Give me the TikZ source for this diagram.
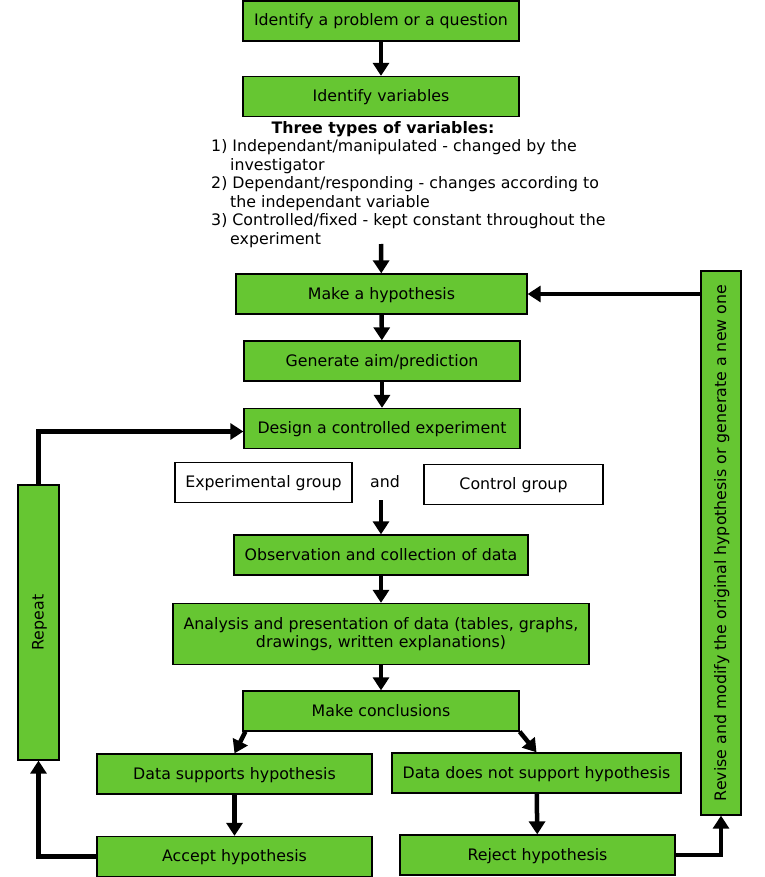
\documentclass[tikz,border=0pt]{standalone}
\usepackage{fontspec}
\setmainfont{DejaVu Sans}
\usetikzlibrary{arrows.meta}
\definecolor{boxgreen}{HTML}{66C632}
\begin{document}
\begin{tikzpicture}[x=1pt,y=-1pt,
    font=\fontsize{15.8}{18.5}\selectfont,
    greenbox/.style={draw=black,line width=1.3pt,fill=boxgreen,inner sep=0pt,minimum height=40pt,text height=11pt,text depth=1pt},
    whitebox/.style={draw=black,line width=1.3pt,fill=white,inner sep=0pt,minimum height=40pt,text height=11pt,text depth=1pt},
    arr/.style={line width=4.5pt,-{Triangle[length=13pt,width=16pt]}}]
    \useasboundingbox (0,0) rectangle (764,877);

    % main column
    \node[greenbox,minimum width=276pt] (problem) at (381,21) {Identify a problem or a question};
    \node[greenbox,minimum width=276pt] (vars) at (381,96.5) {Identify variables};

    % the three types of variables
    \node[inner sep=0pt] (vtitle) at (383,129.5) {\textbf{Three types of variables:}};
    \node[inner sep=0pt,anchor=north west,align=left] (vlist) at (211,139.5)
        {1) Independant/manipulated - changed by the\\
         \hspace*{19pt}investigator\\
         2) Dependant/responding - changes according to\\
         \hspace*{19pt}the independant variable\\
         3) Controlled/fixed - kept constant throughout the\\
         \hspace*{19pt}experiment};
    \coordinate (vend) at (381,244);

    \node[greenbox,minimum width=291pt] (hyp) at (381.5,294) {Make a hypothesis};
    \node[greenbox,minimum width=276pt] (aim) at (382,361) {Generate aim/prediction};
    \node[greenbox,minimum width=276pt] (design) at (382,428.5) {Design a controlled experiment};

    % groups
    \node[whitebox,minimum width=177pt] (expgrp) at (263.5,482.5) {Experimental group};
    \node[inner sep=0pt,text height=11pt,text depth=1pt] (and) at (385,482) {and};
    \node[whitebox,minimum width=179pt] (ctrlgrp) at (513.5,484.5) {Control group};
    \coordinate (gend) at (381,500);

    \node[greenbox,minimum width=294pt] (obs) at (381,555) {Observation and collection of data};
    \node[greenbox,text height={},text depth={},minimum width=416pt,minimum height=61pt,align=center] (ana) at (381,634)
        {Analysis and presentation of data (tables, graphs,\\drawings, written explanations)};
    \node[greenbox,minimum width=276pt] (concl) at (381,711) {Make conclusions};

    % the two outcomes
    \node[greenbox,minimum width=275pt] (sup) at (234.5,774) {Data supports hypothesis};
    \node[greenbox,minimum width=289pt] (nosup) at (536.5,773) {Data does not support hypothesis};
    \node[greenbox,minimum width=275pt] (acc) at (234.5,856.5) {Accept hypothesis};
    \node[greenbox,minimum width=275pt] (rej) at (537.5,855) {Reject hypothesis};

    % side boxes
    \node[greenbox,rotate=90,minimum width=275pt,minimum height=41pt] (rep) at (38.5,622.5) {Repeat};
    \node[greenbox,rotate=90,minimum width=544pt,minimum height=40pt] (rev) at (721,543)
        {Revise and modify the original hypothesis or generate a new one};

    % arrows
    \draw[arr] (problem) -- (vars);
    \draw[arr] (vend) -- (hyp);
    \draw[arr] (hyp) -- (aim);
    \draw[arr] (aim) -- (design);
    \draw[arr] (gend) -- (obs);
    \draw[arr] (obs) -- (ana);
    \draw[arr] (ana) -- (concl);
    \draw[arr] ([xshift=3pt]concl.south west) -- (sup.north);
    \draw[arr] (concl.south east) -- (nosup.north);
    \draw[arr] (sup) -- (acc);
    \draw[arr] (nosup) -- (rej);

    % loops
    \draw[arr] (rep.east) |- ([yshift=-3pt]design.west);
    \draw[arr] (acc.west) -| (rep.west);
    \draw[arr] (rej.east) -| (rev.west);
    \draw[arr] (rev.north |- hyp.east) -- (hyp.east);
\end{tikzpicture}
\end{document}
